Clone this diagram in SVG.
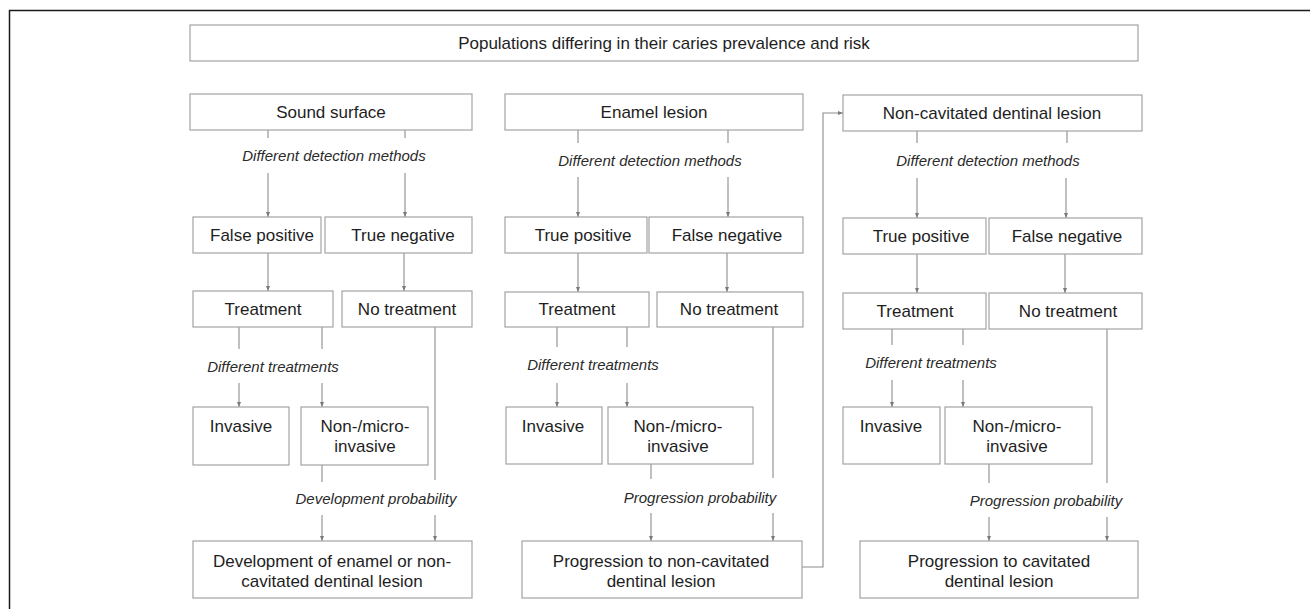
<svg xmlns="http://www.w3.org/2000/svg" width="1310" height="609" viewBox="0 0 1310 609">
<style>
.b{fill:#fff;stroke:#a3a3a3;stroke-width:1.2}
.t{font-family:"Liberation Sans",Arial,sans-serif;font-size:17px;fill:#1e1e1e;text-anchor:middle}
.l{font-family:"Liberation Sans",Arial,sans-serif;font-size:15px;font-style:italic;fill:#2a2a2a;text-anchor:middle}
.c{fill:none;stroke:#8c8c8c;stroke-width:1.1}
.a{marker-end:url(#ah)}
</style>
<defs>
<marker id="ah" markerWidth="6" markerHeight="6" refX="5" refY="3" orient="auto" markerUnits="userSpaceOnUse">
<path d="M0,1 L5,3 L0,5 Z" fill="#7a7a7a"/>
</marker>
</defs>
<rect width="1310" height="609" fill="#fff"/>
<path d="M9.5,609 V10.5 H1310" fill="none" stroke="#1a1a1a" stroke-width="1.5"/>

<g id="connectors">
<!-- column 1 -->
<path class="c" d="M268,130 V138 M405,130 V138"/>
<path class="c a" d="M268,173 V217"/>
<path class="c a" d="M405,173 V217"/>
<path class="c a" d="M268,253 V291"/>
<path class="c a" d="M404,253 V291"/>
<path class="c" d="M239,327 V349 M322,327 V349"/>
<path class="c a" d="M239,383 V407"/>
<path class="c a" d="M322,383 V407"/>
<path class="c" d="M435,327 V480 M322,465 V482"/>
<path class="c a" d="M322,515 V541"/>
<path class="c a" d="M435,515 V541"/>
<!-- column 2 -->
<path class="c" d="M578,130 V143 M728,130 V143"/>
<path class="c a" d="M578,177 V217"/>
<path class="c a" d="M728,177 V217"/>
<path class="c a" d="M578,253 V292"/>
<path class="c a" d="M727,253 V292"/>
<path class="c" d="M557,327 V347 M627,327 V347"/>
<path class="c a" d="M557,383 V407"/>
<path class="c a" d="M627,383 V407"/>
<path class="c" d="M773,327 V478 M651,464 V479"/>
<path class="c a" d="M651,513 V541"/>
<path class="c a" d="M773,513 V541"/>
<path class="c a" d="M802,567 H823 V113 H843"/>
<!-- column 3 -->
<path class="c" d="M917,131 V143 M1067,131 V143"/>
<path class="c a" d="M917,178 V218"/>
<path class="c a" d="M1066,178 V218"/>
<path class="c a" d="M917,254 V293"/>
<path class="c a" d="M1065,254 V293"/>
<path class="c" d="M892,329 V345 M963,329 V345"/>
<path class="c a" d="M892,380 V407"/>
<path class="c a" d="M963,380 V407"/>
<path class="c" d="M1107,329 V483 M989,464 V483"/>
<path class="c a" d="M989,517 V541"/>
<path class="c a" d="M1107,517 V541"/>
</g>

<g id="labels">
<text class="l" x="334" y="161">Different detection methods</text>
<text class="l" x="273" y="372">Different treatments</text>
<text class="l" x="376" y="504">Development probability</text>
<text class="l" x="650" y="166">Different detection methods</text>
<text class="l" x="593" y="370">Different treatments</text>
<text class="l" x="700" y="503">Progression probability</text>
<text class="l" x="988" y="166">Different detection methods</text>
<text class="l" x="931" y="368">Different treatments</text>
<text class="l" x="1046" y="506">Progression probability</text>
</g>

<g id="top"><rect class="b" x="190" y="25" width="948" height="36"/><text class="t" x="664" y="49">Populations differing in their caries prevalence and risk</text></g>

<g id="sound"><rect class="b" x="190" y="94" width="282" height="36"/><text class="t" x="331" y="118">Sound surface</text></g>
<g id="fp1"><rect class="b" x="193" y="217" width="128" height="36"/><text class="t" x="262" y="241">False positive</text></g>
<g id="tn1"><rect class="b" x="325" y="217" width="147" height="36"/><text class="t" x="403" y="241">True negative</text></g>
<g id="tr1"><rect class="b" x="193" y="291" width="140" height="36"/><text class="t" x="263" y="315">Treatment</text></g>
<g id="nt1"><rect class="b" x="342" y="291" width="130" height="36"/><text class="t" x="407" y="315">No treatment</text></g>
<g id="inv1"><rect class="b" x="193" y="407" width="96" height="58"/><text class="t" x="241" y="432">Invasive</text></g>
<g id="nm1"><rect class="b" x="301" y="407" width="127" height="58"/><text class="t" x="365" y="432">Non-/micro-</text><text class="t" x="365" y="452">invasive</text></g>
<g id="out1"><rect class="b" x="193" y="541" width="279" height="57"/><text class="t" x="332" y="567">Development of enamel or non-</text><text class="t" x="332" y="587">cavitated dentinal lesion</text></g>

<g id="enamel"><rect class="b" x="505" y="94" width="298" height="36"/><text class="t" x="654" y="118">Enamel lesion</text></g>
<g id="tp2"><rect class="b" x="505" y="217" width="142" height="36"/><text class="t" x="583" y="241">True positive</text></g>
<g id="fn2"><rect class="b" x="649" y="217" width="154" height="36"/><text class="t" x="727" y="241">False negative</text></g>
<g id="tr2"><rect class="b" x="505" y="292" width="144" height="35"/><text class="t" x="577" y="315">Treatment</text></g>
<g id="nt2"><rect class="b" x="657" y="292" width="146" height="35"/><text class="t" x="729" y="315">No treatment</text></g>
<g id="inv2"><rect class="b" x="506" y="407" width="96" height="57"/><text class="t" x="553" y="432">Invasive</text></g>
<g id="nm2"><rect class="b" x="608" y="407" width="145" height="57"/><text class="t" x="678" y="432">Non-/micro-</text><text class="t" x="678" y="452">invasive</text></g>
<g id="out2"><rect class="b" x="522" y="541" width="280" height="57"/><text class="t" x="661" y="567">Progression to non-cavitated</text><text class="t" x="661" y="587">dentinal lesion</text></g>

<g id="dentinal"><rect class="b" x="843" y="95" width="299" height="36"/><text class="t" x="992" y="119">Non-cavitated dentinal lesion</text></g>
<g id="tp3"><rect class="b" x="843" y="218" width="143" height="36"/><text class="t" x="921" y="242">True positive</text></g>
<g id="fn3"><rect class="b" x="989" y="218" width="153" height="36"/><text class="t" x="1067" y="242">False negative</text></g>
<g id="tr3"><rect class="b" x="843" y="293" width="143" height="36"/><text class="t" x="915" y="317">Treatment</text></g>
<g id="nt3"><rect class="b" x="989" y="293" width="153" height="36"/><text class="t" x="1068" y="317">No treatment</text></g>
<g id="inv3"><rect class="b" x="843" y="407" width="97" height="57"/><text class="t" x="891" y="432">Invasive</text></g>
<g id="nm3"><rect class="b" x="945" y="407" width="147" height="57"/><text class="t" x="1017" y="432">Non-/micro-</text><text class="t" x="1017" y="452">invasive</text></g>
<g id="out3"><rect class="b" x="860" y="541" width="278" height="57"/><text class="t" x="999" y="567">Progression to cavitated</text><text class="t" x="999" y="587">dentinal lesion</text></g>
</svg>
